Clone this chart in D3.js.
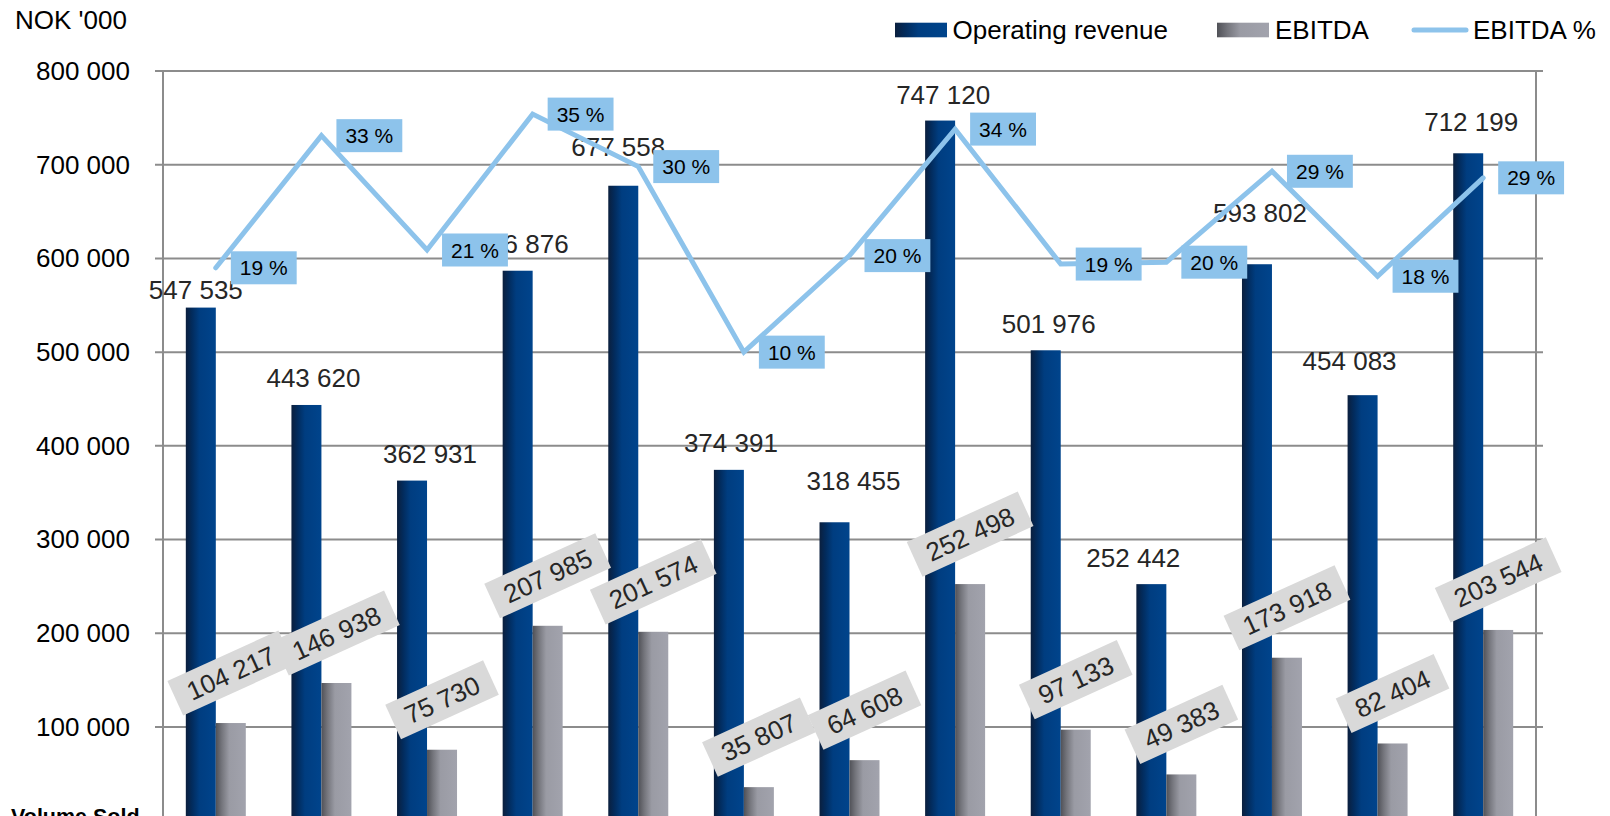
<!DOCTYPE html>
<html>
<head>
<meta charset="utf-8">
<script src="https://cdn.jsdelivr.net/npm/d3@7/dist/d3.min.js"></script>
<style>
  body { margin: 0; background: #fff; }
  svg { display: block; overflow: hidden; }
  text { font-family: Arial, "Liberation Sans", sans-serif; }
</style>
</head>
<body>
<div id="chart"></div>
<script>
// Periods (category labels sit below the visible area)
const periods = d3.range(1, 14).map(d => 'P' + d);

// Series values, NOK '000
const revenue = [547535, 443620, 362931, 586876, 677558, 374391, 318455, 747120, 501976, 252442, 593802, 454083, 712199];
const ebitda = [104217, 146938, 75730, 207985, 201574, 35807, 64608, 252498, 97133, 49383, 173918, 82404, 203544];
const ebitdaPct = [0.190, 0.331, 0.209, 0.354, 0.298, 0.100, 0.203, 0.338, 0.194, 0.196, 0.293, 0.181, 0.286];

// Axis ticks
const yTicks = [100000, 200000, 300000, 400000, 500000, 600000, 700000, 800000];

// Hand-placed nudges of the revenue labels [dx, dy]
const revLabelNudge = [[-5, 9], [7, 0], [18, 0], [4, 0], [-5, -12], [2, 0], [19, -14], [3, 1], [3, 1], [-18, 1], [3, -24], [-13, -7], [3, -4]];

const W = 1610, H = 816;
const colors = {
  grid: '#8c8c8c',
  text: '#262626',
  line: '#8dc3eb',
  pctBox: '#8dc3eb',
  valBox: '#d9d9d9'
};

const svg = d3.select('#chart').append('svg')
  .attr('width', W)
  .attr('height', H);

// Gradients for the bar shading
const defs = svg.append('defs');
function addGradient(id, stops) {
  const g = defs.append('linearGradient')
    .attr('id', id)
    .attr('x1', '0%').attr('x2', '100%')
    .attr('y1', '0%').attr('y2', '0%');
  stops.forEach(s => g.append('stop').attr('offset', s[0]).attr('stop-color', s[1]));
}
addGradient('revGrad', [['0%', '#0b1f3d'], ['20%', '#022b5c'], ['45%', '#003d80'], ['100%', '#00448c']]);
addGradient('ebGrad', [['0%', '#505157'], ['20%', '#74757c'], ['45%', '#9a9ba4'], ['100%', '#a2a3ad']]);

const x = d3.scaleBand()
  .domain(d3.range(periods.length))
  .range([163, 1536])
  .paddingInner(0.432)
  .paddingOuter(0.216);

const xs = d3.scaleBand()
  .domain(['rev', 'eb'])
  .range([0, x.bandwidth()]);

const y = d3.scaleLinear().domain([0, 800000]).range([820.7, 71]);
const y2 = d3.scaleLinear().domain([-0.4, 0.4]).range([820.7, 71]);

const fmt = v => d3.format(',')(v).replace(/,/g, ' ');

// Gridlines
svg.append('g')
  .selectAll('line')
  .data(yTicks)
  .join('line')
  .attr('x1', 155)
  .attr('x2', 1543)
  .attr('y1', d => y(d))
  .attr('y2', d => y(d))
  .attr('stroke', colors.grid)
  .attr('stroke-width', 2);

// Left axis with labels
const yAxis = svg.append('g')
  .attr('transform', 'translate(163,0)')
  .call(d3.axisLeft(y).tickValues(yTicks).tickFormat(fmt).tickSize(8).tickPadding(25));
yAxis.select('.domain').remove();
yAxis.selectAll('.tick line').remove();
yAxis.selectAll('.tick text')
  .attr('font-size', 26)
  .attr('fill', '#000')
  .style('font-family', 'Arial, "Liberation Sans", sans-serif');

// Axis verticals
svg.append('line')
  .attr('x1', 163).attr('x2', 163)
  .attr('y1', y(800000)).attr('y2', H)
  .attr('stroke', colors.grid).attr('stroke-width', 2);
svg.append('line')
  .attr('x1', 1536).attr('x2', 1536)
  .attr('y1', y(800000)).attr('y2', H)
  .attr('stroke', colors.grid).attr('stroke-width', 2);

// Bars
const bars = svg.append('g');
bars.selectAll('rect.rev')
  .data(revenue)
  .join('rect')
  .attr('class', 'rev')
  .attr('x', (d, i) => x(i) + xs('rev'))
  .attr('width', xs.bandwidth())
  .attr('y', d => y(d))
  .attr('height', d => y(0) - y(d))
  .attr('fill', 'url(#revGrad)');

bars.selectAll('rect.eb')
  .data(ebitda)
  .join('rect')
  .attr('class', 'eb')
  .attr('x', (d, i) => x(i) + xs('eb'))
  .attr('width', xs.bandwidth())
  .attr('y', d => y(d))
  .attr('height', d => y(0) - y(d))
  .attr('fill', 'url(#ebGrad)');

// Revenue labels
svg.append('g')
  .selectAll('text')
  .data(revenue)
  .join('text')
  .attr('x', (d, i) => x(i) + xs('rev') + xs.bandwidth() / 2 + revLabelNudge[i][0])
  .attr('y', (d, i) => y(d) - 18 + revLabelNudge[i][1])
  .attr('text-anchor', 'middle')
  .attr('font-size', 26)
  .attr('fill', colors.text)
  .text(fmt);

// EBITDA % line
const cx = i => x(i) + x.bandwidth() / 2;
const line = d3.line()
  .x((d, i) => cx(i))
  .y(d => y2(d));

svg.append('path')
  .datum(ebitdaPct)
  .attr('d', line)
  .attr('fill', 'none')
  .attr('stroke', colors.line)
  .attr('stroke-width', 5)
  .attr('stroke-linecap', 'round');

// Percentage labels
const pctLabels = svg.append('g')
  .selectAll('g')
  .data(ebitdaPct)
  .join('g')
  .attr('transform', (d, i) => `translate(${cx(i) + 15},${y2(d)})`);

pctLabels.each(function (d) {
  const g = d3.select(this);
  const rect = g.append('rect').attr('fill', colors.pctBox);
  const t = g.append('text')
    .attr('font-size', 21)
    .attr('fill', '#000')
    .attr('dy', '0.36em')
    .text(Math.round(d * 100) + ' %');
  const w = t.node().getComputedTextLength() + 18;
  t.attr('x', w / 2).attr('text-anchor', 'middle');
  rect.attr('x', 0).attr('y', -16.5).attr('width', w).attr('height', 33);
});

// EBITDA labels, rotated with grey box
const ebLabels = svg.append('g')
  .selectAll('g')
  .data(ebitda)
  .join('g')
  .attr('transform', (d, i) => `translate(${x(i) + xs('eb') + xs.bandwidth() / 2},${y(d) - 50}) rotate(-24.5)`);

ebLabels.each(function (d) {
  const g = d3.select(this);
  const rect = g.append('rect').attr('fill', colors.valBox);
  const t = g.append('text')
    .attr('font-size', 26)
    .attr('fill', colors.text)
    .attr('text-anchor', 'middle')
    .attr('dy', '0.36em')
    .text(fmt(d));
  const w = t.node().getComputedTextLength() + 28;
  rect.attr('x', -w / 2).attr('y', -19).attr('width', w).attr('height', 38);
});

// Unit label
svg.append('text')
  .attr('x', 15)
  .attr('y', 28.5)
  .attr('font-size', 26)
  .attr('fill', '#000')
  .text("NOK '000");

// Table row header peeking in at the bottom
svg.append('text')
  .attr('x', 11)
  .attr('y', 824)
  .attr('font-size', 21.5)
  .attr('font-weight', 'bold')
  .attr('fill', '#000')
  .text('Volume Sold');

// Legend
const legend = svg.append('g');
legend.append('rect')
  .attr('x', 895).attr('y', 22.7).attr('width', 52).attr('height', 14.6)
  .attr('fill', 'url(#revGrad)');
legend.append('text')
  .attr('x', 952.5).attr('y', 39)
  .attr('font-size', 26).attr('fill', '#000')
  .text('Operating revenue');
legend.append('rect')
  .attr('x', 1217).attr('y', 22.7).attr('width', 52).attr('height', 14.6)
  .attr('fill', 'url(#ebGrad)');
legend.append('text')
  .attr('x', 1275).attr('y', 39)
  .attr('font-size', 26).attr('fill', '#000')
  .text('EBITDA');
legend.append('line')
  .attr('x1', 1414).attr('x2', 1466)
  .attr('y1', 30).attr('y2', 30)
  .attr('stroke', colors.line).attr('stroke-width', 5)
  .attr('stroke-linecap', 'round');
legend.append('text')
  .attr('x', 1473).attr('y', 39)
  .attr('font-size', 26).attr('fill', '#000')
  .text('EBITDA %');
</script>
</body>
</html>
